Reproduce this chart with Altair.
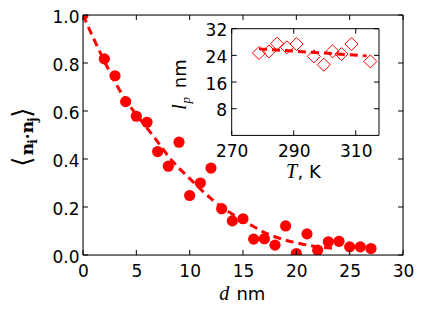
import altair as alt
import pandas as pd

# ---- data ----
d_vals = [0, 2, 3, 4, 5, 6, 7, 8, 9, 10, 11, 12, 13, 14, 15, 16, 17, 18, 19, 20, 21, 22, 23, 24, 25, 26, 27]
corr_vals = [1.0, 0.817, 0.747, 0.639, 0.578, 0.553, 0.431, 0.37, 0.47, 0.248, 0.30, 0.362, 0.193, 0.142,
             0.151, 0.066, 0.068, 0.041, 0.121, 0.006, 0.088, 0.02, 0.055, 0.057, 0.034, 0.034, 0.027]
fit_d = [0, 1.1, 3.3, 6.7, 8.5, 9.7, 12.0, 15.9, 17.25, 18.75, 20.2, 21.7, 23.7]
fit_corr = [1.0, 0.892, 0.697, 0.489, 0.385, 0.332, 0.235, 0.121, 0.089, 0.065, 0.049, 0.036, 0.028]

T_vals = [278.8, 282.0, 284.6, 287.8, 290.9, 296.5, 299.7, 302.5, 305.4, 308.6, 314.7]
lp_vals = [24.7, 25.2, 27.5, 26.4, 27.4, 23.7, 21.2, 25.2, 24.4, 27.4, 22.2]
fit_T = [278.8, 313.5]
fit_lp = [25.95, 23.85]

main_xticks = [0, 5, 10, 15, 20, 25, 30]
main_yticks = [0.0, 0.2, 0.4, 0.6, 0.8, 1.0]
inset_xticks = [270, 290, 310]
inset_yticks = [8, 16, 24, 32]
main_xdomain = [0, 30]
main_ydomain = [0, 1]
inset_xdomain = [270, 317.5]
inset_ydomain = [0, 32]

# ---- layout ----
W, H = 320, 240
IX0, IX1 = 148.7, 296.0     # inset x range inside plot
IY0, IY1 = 120.4, 13.7      # inset y range (bottom, top)
TL = 5                      # inward tick length
RED = "#ff0000"
SANS = "DejaVu Sans"
FS = 17

mx_scale = alt.Scale(domain=main_xdomain, nice=False, zero=False)
my_scale = alt.Scale(domain=main_ydomain, nice=False, zero=False)
ix_scale = alt.Scale(domain=inset_xdomain, range=[IX0, IX1], nice=False, zero=False)
iy_scale = alt.Scale(domain=inset_ydomain, range=[IY0, IY1], nice=False, zero=False)

common_axis = dict(ticks=False, domain=False, grid=False, labelFontSize=FS, labelFont=SANS,
                   labelColor="black", title=None, labelFlush=False, labelOverlap=False,
                   labelBound=False, zindex=1)
mx_axis = alt.Axis(values=main_xticks, format="d", labelPadding=8, labelBaseline="top", **common_axis)
my_axis = alt.Axis(values=main_yticks, format=".1f", labelPadding=4, orient="left",
                   labelOffset=2, **common_axis)
ix_axis = alt.Axis(values=inset_xticks, format="d", labelPadding=8, labelBaseline="top",
                   orient="bottom", offset=-(H - IY0), **common_axis)
iy_axis = alt.Axis(values=inset_yticks, format="d", labelPadding=5, orient="left",
                   offset=-IX0, labelOffset=2, **common_axis)

main_df = pd.DataFrame({"d": d_vals, "c": corr_vals})
fit_df = pd.DataFrame({"d": fit_d, "c": fit_corr})
inset_df = pd.DataFrame({"T": T_vals, "lp": lp_vals})
ifit_df = pd.DataFrame({"T": fit_T, "lp": fit_lp})

MX = lambda f: alt.X(f, type="quantitative", scale=mx_scale, axis=mx_axis)
MY = lambda f: alt.Y(f, type="quantitative", scale=my_scale, axis=my_axis)
IXc = lambda f: alt.X(f, type="quantitative", scale=ix_scale, axis=ix_axis)
IYc = lambda f: alt.Y(f, type="quantitative", scale=iy_scale, axis=iy_axis)

# main panel
mframe_df = pd.DataFrame({"x1": [main_xdomain[0]], "x2": [main_xdomain[1]],
                          "y1": [main_ydomain[0]], "y2": [main_ydomain[1]]})
mframe = alt.Chart(mframe_df).mark_rect(fillOpacity=0, stroke="black", strokeWidth=1).encode(
    x=MX("x1"), x2="x2", y=MY("y1"), y2="y2")
main_pts = alt.Chart(main_df).mark_circle(color=RED, opacity=1, size=125, clip=True).encode(
    x=MX("d"), y=MY("c"))
main_fit = alt.Chart(fit_df).mark_line(color=RED, strokeWidth=3, strokeDash=[8, 5],
                                       interpolate="monotone", clip=True).encode(x=MX("d"), y=MY("c"))
mxt = pd.DataFrame({"d": main_xticks})
myt = pd.DataFrame({"c": main_yticks})
tick_b = alt.Chart(mxt).mark_rule(color="black", strokeWidth=1).encode(
    x=MX("d"), y=alt.value(H), y2=alt.value(H - TL))
tick_t = alt.Chart(mxt).mark_rule(color="black", strokeWidth=1).encode(
    x=MX("d"), y=alt.value(0), y2=alt.value(TL))
tick_l = alt.Chart(myt).mark_rule(color="black", strokeWidth=1).encode(
    y=MY("c"), x=alt.value(0), x2=alt.value(TL))
tick_r = alt.Chart(myt).mark_rule(color="black", strokeWidth=1).encode(
    y=MY("c"), x=alt.value(W), x2=alt.value(W - TL))

main_layer = alt.layer(main_fit, main_pts, tick_b, tick_t, tick_l, tick_r, mframe)

# inset panel
frame_df = pd.DataFrame({"x1": [inset_xdomain[0]], "x2": [inset_xdomain[1]],
                         "y1": [inset_ydomain[0]], "y2": [inset_ydomain[1]]})
frame = alt.Chart(frame_df).mark_rect(fill="white", stroke="black", strokeWidth=1).encode(
    x=IXc("x1"), x2="x2", y=IYc("y1"), y2="y2")
ifit = alt.Chart(ifit_df).mark_line(color=RED, strokeWidth=3, strokeDash=[8, 5]).encode(
    x=IXc("T"), y=IYc("lp"))
ipts = alt.Chart(inset_df).mark_point(shape="diamond", filled=False, color=RED, size=170,
                                      strokeWidth=1, opacity=1).encode(x=IXc("T"), y=IYc("lp"))
ixt = pd.DataFrame({"T": inset_xticks})
iyt = pd.DataFrame({"lp": inset_yticks})
itick_b = alt.Chart(ixt).mark_rule(color="black", strokeWidth=1).encode(
    x=IXc("T"), y=alt.value(IY0), y2=alt.value(IY0 - TL))
itick_t = alt.Chart(ixt).mark_rule(color="black", strokeWidth=1).encode(
    x=IXc("T"), y=alt.value(IY1), y2=alt.value(IY1 + TL))
itick_l = alt.Chart(iyt).mark_rule(color="black", strokeWidth=1).encode(
    y=IYc("lp"), x=alt.value(IX0), x2=alt.value(IX0 + TL))
itick_r = alt.Chart(iyt).mark_rule(color="black", strokeWidth=1).encode(
    y=IYc("lp"), x=alt.value(IX1), x2=alt.value(IX1 - TL))

inset_layer = alt.layer(frame, ifit, ipts, itick_b, itick_t, itick_l, itick_r)

# titles as text
def txt(s, x, y, size, font=SANS, style="normal", weight="normal", align="left",
        baseline="alphabetic", angle=0):
    return alt.Chart(pd.DataFrame({"t": [s]})).mark_text(
        font=font, fontSize=size, fontStyle=style, fontWeight=weight, align=align,
        baseline=baseline, angle=angle, color="black").encode(
        x=alt.value(x), y=alt.value(y), text="t:N")

OX, OY = 83.3, 15.3  # plot origin on the page
titles = alt.layer(
    txt("d", 229.5 - OX, 300 - OY, 20, font="Liberation Serif", style="italic", align="right"),
    txt("nm", 236.7 - OX, 300 - OY, 18),
    # y label <n_i . n_j>
    txt("\u27e8", 23.5 - OX, 167 - OY, 26, align="left", baseline="middle", angle=270),
    txt("n", 33.3 - OX, 155.5 - OY, 17, font="DejaVu Serif", weight="bold", angle=270),
    txt("i", 37.3 - OX, 144.0 - OY, 12, font="DejaVu Serif", weight="bold", angle=270),
    txt("\u00b7", 33.3 - OX, 136.5 - OY, 17, font="DejaVu Serif", weight="bold", align="center", angle=270),
    txt("n", 33.3 - OX, 133.5 - OY, 17, font="DejaVu Serif", weight="bold", angle=270),
    txt("j", 37.3 - OX, 122.0 - OY, 12, font="DejaVu Serif", weight="bold", angle=270),
    txt("\u27e9", 23.5 - OX, 118 - OY, 26, align="left", baseline="middle", angle=270),
    # inset y label l_p nm
    txt("l", 186.7 - OX, 110 - OY, 20, font="Liberation Serif", style="italic", angle=270),
    txt("p", 190.7 - OX, 103.8 - OY, 13, font="Liberation Serif", style="italic", angle=270),
    txt("nm", 186.7 - OX, 88.5 - OY, 18, angle=270),
    # inset x label T, K
    txt("T", 297.5 - OX, 178 - OY, 20, font="Liberation Serif", style="italic", align="right"),
    txt(", K", 297.8 - OX, 178 - OY, 18),
)

chart = alt.layer(main_layer, inset_layer, titles).resolve_scale(
    x="independent", y="independent").properties(
    width=W, height=H, padding={"left": 75, "top": 7, "right": 14, "bottom": 48},
    autosize=alt.AutoSizeParams(type="none"),
).configure_view(stroke=None).configure(background="white")

chart.save("out.html", embed_options={"renderer": "svg", "actions": False})
